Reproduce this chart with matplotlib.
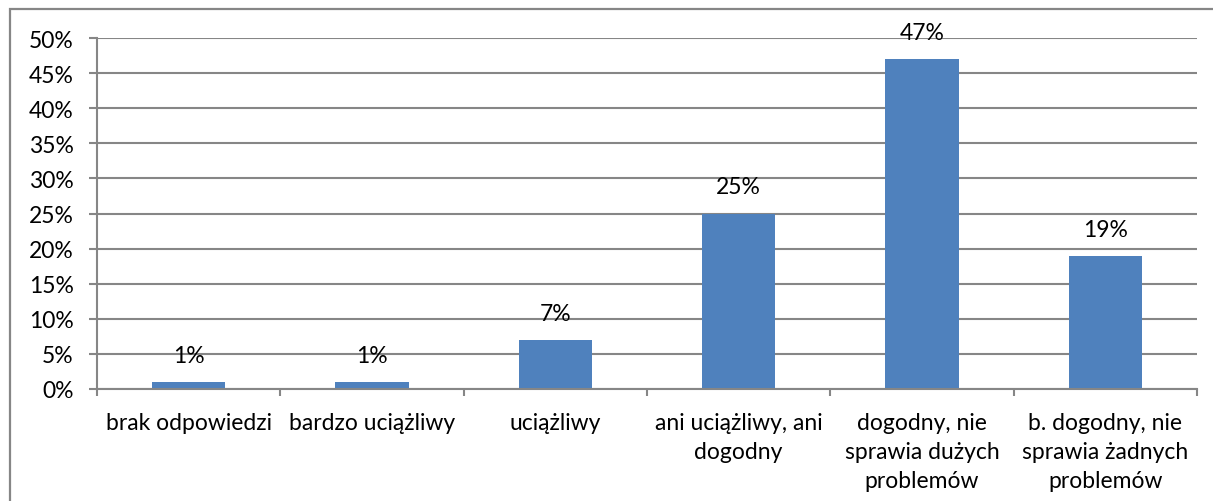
import matplotlib
matplotlib.use("Agg")
import matplotlib.pyplot as plt
from matplotlib.patches import Rectangle
from matplotlib.ticker import FuncFormatter, FixedLocator

# Survey answers and their shares (percent)
categories = [
    "brak odpowiedzi",
    "bardzo uciążliwy",
    "uciążliwy",
    "ani uciążliwy, ani\ndogodny",
    "dogodny, nie\nsprawia dużych\nproblemów",
    "b. dogodny, nie\nsprawia żadnych\nproblemów",
]
values = [1, 1, 7, 25, 47, 19]
value_labels = ["1%", "1%", "7%", "25%", "47%", "19%"]
y_ticks = [0, 5, 10, 15, 20, 25, 30, 35, 40, 45, 50]

W, H = 1213, 502
DPI = 100
FONT = ["Lato", "DejaVu Sans"]
FS = 16.5
GRID = "#868686"
BAR = "#4F81BD"

plt.rcParams["font.family"] = FONT

fig = plt.figure(figsize=(W / DPI, H / DPI), dpi=DPI)
fig.patch.set_facecolor("white")

# outer chart frame (runs off the right and bottom edges)
fig.add_artist(Rectangle((9.5 / W, -0.2), 2.0, (H - 9.5) / H + 0.2,
                         transform=fig.transFigure, fill=False,
                         edgecolor=GRID, linewidth=1.6))

left, right = 97 / W, 1197 / W
bottom, top = (H - 390) / H, (H - 39) / H
ax = fig.add_axes([left, bottom, right - left, top - bottom])

n = len(categories)
x = list(range(n))
ax.bar(x, values, width=0.40, color=BAR, zorder=3)

ax.set_xlim(-0.5, n - 0.5)
ax.set_ylim(0, 50)

ax.set_yticks(y_ticks)
ax.yaxis.set_major_formatter(FuncFormatter(lambda v, p: f"{v:.0f}%"))
ax.grid(axis="y", color=GRID, linewidth=1.5, zorder=0)

for s in ["top", "right"]:
    ax.spines[s].set_visible(False)
for s in ["left", "bottom"]:
    ax.spines[s].set_color(GRID)
    ax.spines[s].set_linewidth(1.5)
    ax.spines[s].set_zorder(4)

ax.tick_params(axis="y", length=5.8, width=1.5, color=GRID,
               labelsize=FS, pad=11, labelcolor="black")
ax.set_xticks([])
ax.xaxis.set_minor_locator(FixedLocator([i - 0.5 for i in range(n + 1)]))
ax.tick_params(axis="x", which="minor", length=5.0, width=1.5, color=GRID)

# category labels under the axis
for xi, lab in zip(x, categories):
    ax.annotate(lab, (xi, 0), xytext=(0, -16.8), textcoords="offset points",
                ha="center", va="top", fontsize=FS, linespacing=1.47,
                annotation_clip=False)

# value labels above bars
for xi, v, lab in zip(x, values, value_labels):
    ax.annotate(lab, (xi, v), xytext=(0, 14.4), textcoords="offset points",
                ha="center", va="baseline", fontsize=FS, zorder=5)

fig.savefig("out.png", dpi=DPI, facecolor="white")
